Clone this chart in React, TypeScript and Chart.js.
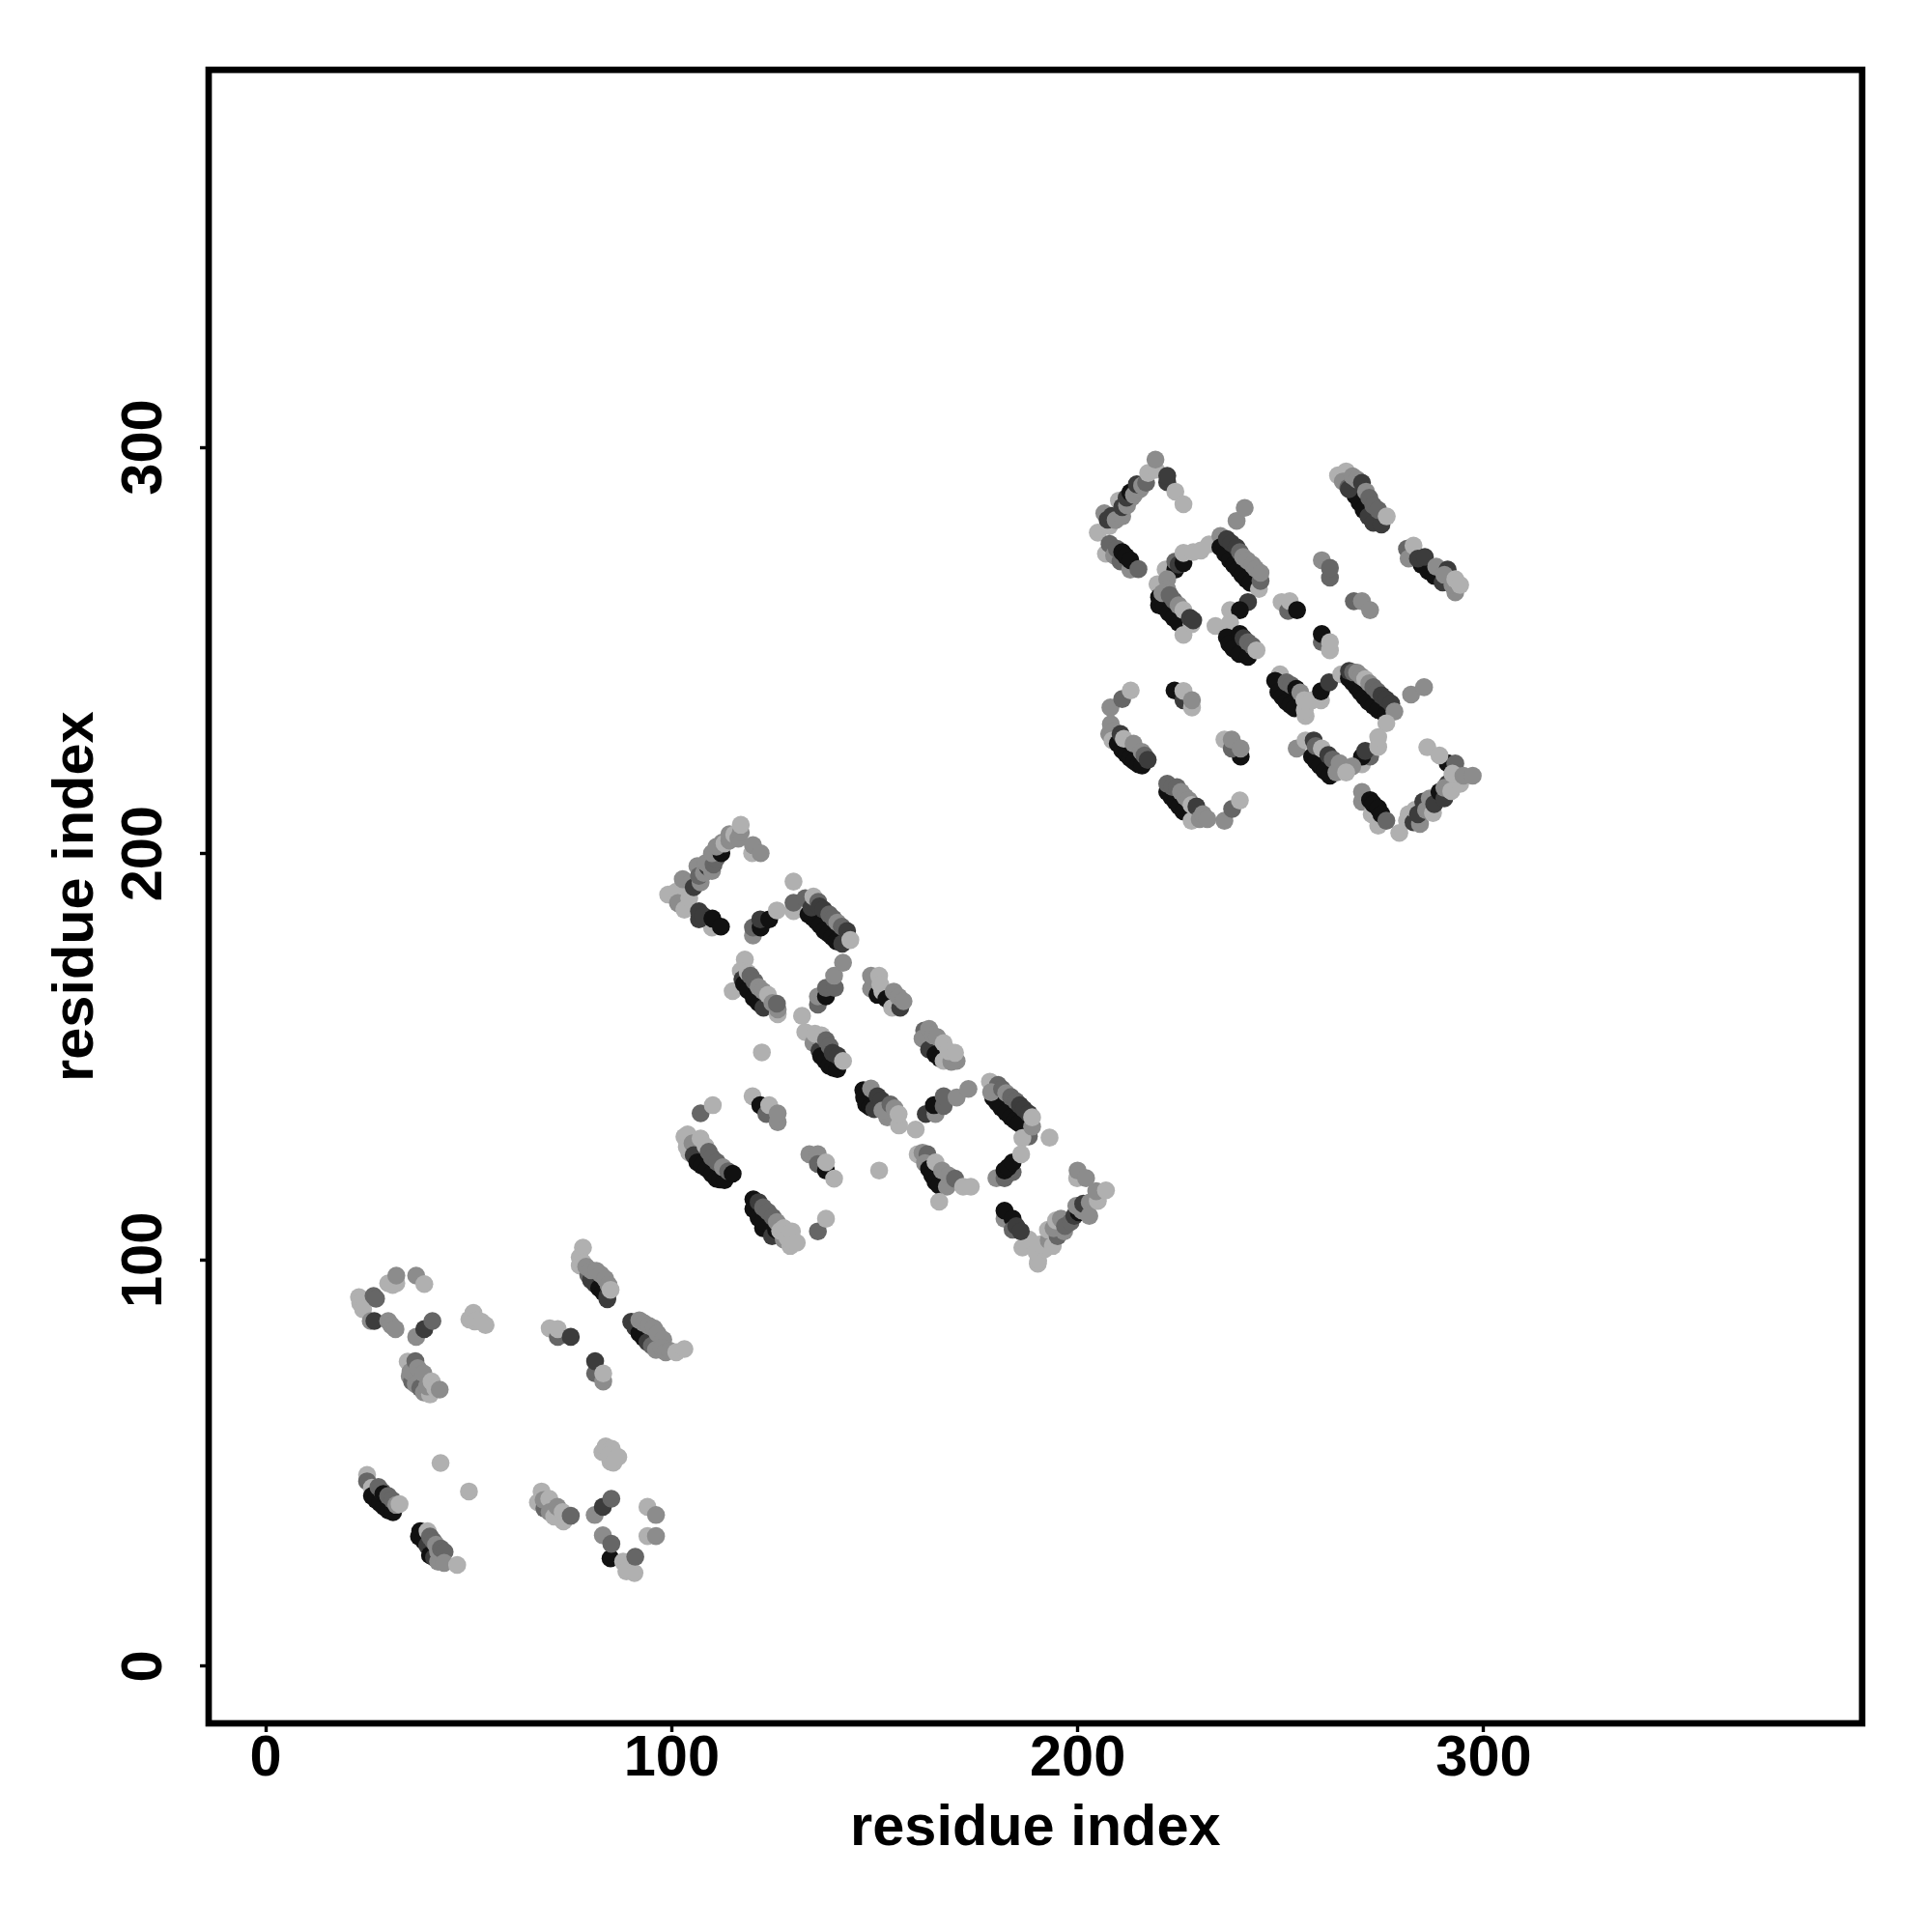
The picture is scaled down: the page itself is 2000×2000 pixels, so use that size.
import React, { useEffect, useRef } from "react";
import { Chart, registerables } from "chart.js";

Chart.register(...registerables);

const tickValues = [0, 100, 200, 300];
const axisLabel = "residue index";
const shades = ["#111111", "#3c3c3c", "#666666", "#8c8c8c", "#b0b0b0"];
// the values below were read with a slightly rounded axis scale
const xReadCorrection = 0.9993;
const yReadCorrection = 0.9986;

// [x residue, y residue, shade level]
const loopA = [[23,91,4],[23.3,89.5,4],[24,88,4],[26.6,91.3,2],[27.2,90.6,2],[30.2,94.4,4],[32.2,94.4,4],[31.3,94,4],[32.2,96.3,3],[37.1,96.3,3],[39.1,94.2,4],[25.9,85.1,3],[26.8,85.1,1],[30.2,85.1,3],[31,84,3],[32,83.1,3],[37.1,81.2,3],[39.1,83.1,1],[41.1,85.1,2]];
const blobA = [[50.2,85.5,4],[51.2,87.1,4],[51.5,85,4],[52.2,85.3,4],[53.2,84.9,4],[54.2,84.1,4]];
const clusterA = [[35,75.1,4],[35.5,71.5,3],[36.1,70.2,2],[35.7,72.6,3],[37,69.5,3],[38.1,68.6,2],[39,67.5,3],[36.9,75.2,2],[37.5,73.5,3],[38.9,72.2,3],[40.5,67,4],[39.8,69,3],[40.9,70.2,4],[41.8,68.5,4],[42.9,68.2,3]];
const strandB = [[78.2,103.2,4],[77.4,100.8,4],[77.4,98.8,4],[78.2,99.5,4],[79.5,96.5,2],[80.2,95.2,1],[81.2,94.2,1],[82.2,93.2,0],[83.2,92.2,0],[84.2,91.2,1],[84.2,90.5,1],[79,98.5,3],[80.2,97.6,3],[81.5,97.5,3],[82.6,96.6,3],[83.7,95.5,3],[84.5,94,3],[85,92.8,4]];
const pairB = [[70,83.3,4],[72,81.2,2],[72,83.1,4],[75.2,81.2,1]];
const pairC = [[81.2,72.2,2],[81.2,75.2,1],[83.2,70.2,3],[83.2,72.2,4]];
const strandC = [[90.1,84.9,1],[91.1,83.5,1],[92.1,82.1,0],[93.1,81,0],[94.1,79.9,1],[95.2,79,2],[96.2,78,3],[92.1,85.3,3],[93.2,84.6,3],[94.5,83.9,3],[95.7,83.3,3],[96.6,82,3],[98,80.5,3],[97.6,78.5,3],[98.6,77.4,3],[99.6,77.8,3],[101.2,77.4,4],[103.2,78.2,4]];
const strandD = [[25,47.2,4],[25,45.6,2],[26.2,44,4],[26.2,42,0],[27.2,41,0],[28.2,40.2,0],[29.2,39.3,0],[30.3,38.4,0],[31.4,38,0],[27.8,44.2,2],[28.8,43,2],[29,42.5,0],[30.2,42,2],[31.2,41,2],[32.2,39.8,3],[33,40,4],[43.1,50.1,4],[50.1,43.1,4]];
const strandE = [[38.1,33.3,0],[37.8,32,0],[38.9,31,0],[39.8,29.8,1],[40.5,27.4,0],[41.5,26.8,1],[39.9,33.3,4],[40.5,32,2],[41.3,30.9,2],[42,30,3],[42.5,25.8,3],[42.5,28.2,3],[43.2,29,2],[44.1,28.2,2],[44,25.5,3],[47.2,25,4]];
const blobF = [[83,52.8,4],[83.8,54.2,4],[85.3,53.6,4],[85,50.4,4],[84.5,52,4],[85.7,50.2,4],[86.9,51.6,4]];
const clusterF = [[67.1,40.4,4],[68,43.1,4],[68.7,38.9,2],[68.5,41,3],[69.9,41.3,4],[70,38,3],[71.1,36.9,4],[71.9,39.3,3],[73.4,35.7,4],[73.2,38,4],[75.2,37.1,2]];
const cornerF = [[81.1,37.3,3],[83.1,39.3,1],[85.2,41.3,2],[94.1,39.3,4],[96.2,37.3,3],[94.1,32.1,4],[96.2,32.1,3],[83.1,32.3,3],[85,26.6,0],[85.2,30.2,2],[88.1,25.8,4],[88.9,23.4,4],[90.9,23,4],[91.1,27,2]];

const loopG = [[99.2,190.2,4],[101.2,190.9,4],[101.6,188.1,3],[103.2,186.5,4],[104.4,189.3,4],[102.8,194,3],[104.8,193.2,3],[105.5,192,1],[107.2,193.2,3],[106.4,197.2,3],[106.8,194.8,2],[108,195.5,3],[109,197,1],[110,196,3],[108.5,198,3],[110.4,197.6,2],[111,199,2],[110,200.4,3],[112.3,200.4,0],[111.1,202,3],[112.5,203,3],[113.1,202.8,4],[114.3,203.5,3],[114.3,205.1,3],[115.5,205,4],[116.5,204,3],[117.1,205.5,3],[117.1,207.4,4],[119.9,200.4,4],[120.1,202.4,3],[122,200.4,3],[110,182.1,4],[106.8,184.1,1],[106.8,186.1,1],[107.8,185,1],[110.1,184.3,0],[112.2,182.3,0]];
const loopH = [[120.1,180.1,3],[120.1,182.1,2],[122,182.1,0],[121.9,184.1,1],[124.1,184.1,0],[126,186.3,4],[130.1,193.4,4],[130.1,186.1,4],[130.1,188.2,2]];
const strandH = [[133.8,185.3,0],[134.8,184.6,0],[135.7,183.7,0],[136.7,182.6,0],[137.7,181.3,0],[138.7,180.6,0],[139.7,179.7,0],[140.7,178.7,0],[142.1,178.1,1],[133,189.3,2],[134.5,187,1],[135,189.7,4],[136.2,188.4,2],[136.5,187.3,1],[137.5,186.5,1],[138.9,185.3,2],[139.9,184.3,2],[140.9,183.3,3],[142,182.3,2],[143.3,181.2,1],[144.1,179,4]];
const strandI = [[118.1,174.2,4],[117.1,171.4,4],[115.1,166.4,4],[117.5,169.3,1],[117.9,168.2,0],[118.9,166.6,0],[120.3,164.7,0],[121.5,163.5,0],[122.7,162.3,1],[118.8,171,4],[119.5,170.2,2],[120.5,168.8,2],[121.5,167.4,3],[122.6,166.4,3],[123.8,165.5,4],[124.9,163.5,3],[126.2,160.7,4],[126.2,161.9,3],[126,163.3,2]];
const strandJ = [[136.1,163.1,2],[136.1,165.1,3],[138.1,165.1,0],[138.1,167.2,2],[140.3,167.2,2],[140.1,170.2,3],[142.3,173.4,3]];
const strandK = [[149.2,167,3],[149.2,170.2,3],[150.8,165.5,0],[151.2,170.2,4],[152,166.3,4],[151.5,168,4],[153,164.5,0],[154.4,162.3,4],[156.4,162.3,1],[154.8,166.3,3],[156,165,3],[157.2,163.9,3]];
const strandL = [[132.2,160.3,4],[133,156.3,4],[135,153.6,3],[135.4,155.9,4],[136.5,151.7,1],[136.9,150.4,0],[137.9,149.3,0],[138.9,148,0],[139.9,147.5,0],[140.9,147.2,0],[137,155.5,4],[138.1,154.3,2],[139,152.8,2],[139.7,151.2,1],[141,150.5,1],[142.3,149.2,4],[122.3,151.3,4]];
const strandM = [[162.3,156.7,2],[161.9,154.7,3],[163.5,157.1,3],[163.5,152,1],[165.1,150.8,0],[164.5,155.5,3],[165.5,155.1,3],[166.2,149.8,0],[167.1,149.2,4],[170.3,149.2,3],[169,149,3],[167.1,153.6,4],[168.3,151.6,4],[169.9,151.2,4]];
const strandN = [[147.3,142,0],[147.5,140.2,0],[148,138.5,0],[149,137.8,0],[150,137.3,1],[149.2,142.4,3],[150.8,140.5,1],[151.8,139.5,1],[153.2,135.3,3],[152,137,3],[154,138.5,2],[155,137.5,3],[156.1,133.3,4],[156,136.1,4],[160.2,132.3,4]];
const strandO = [[162.7,136.1,1],[165.1,136.1,3],[164.7,138.3,0],[167.1,138.1,2],[167.1,140.5,2],[170.3,140.2,3],[173.2,142.3,3]];
const strandP = [[120,140.5,4],[121.9,138.3,0],[123.4,136.1,2],[124.1,138.3,4],[126.2,134.1,3],[126.2,136.3,3],[107.2,136.3,2],[110.2,138.3,4]];
const strandQ = [[103.2,130.5,4],[104,131.1,4],[104.4,126.6,4],[103.8,128,4],[105.2,128.9,3],[105.5,126,1],[106.4,124.2,0],[107.5,123.4,0],[108.8,122.6,0],[107.2,130.1,4],[108.4,128.2,4],[110,121.3,0],[111.1,120.2,0],[112,120,0],[113.1,119.8,0],[109.2,126.8,2],[110,125.4,2],[111.2,124.3,2],[112.7,123,3],[114,122,2],[115.1,121.4,0]];
const strandR = [[134,126.2,3],[136.1,126.2,3],[136.1,123.8,2],[138.1,122.2,0],[138.1,124.2,4],[140.1,120.2,4],[151.2,122.2,4]];
const strandS = [[160.7,126.2,4],[161.9,126.6,3],[163.1,126.2,2],[162.5,124,3],[163.5,122.6,0],[164.3,121,0],[165.1,119.4,0],[166,118.5,0],[165.1,124.2,4],[166.7,122.2,3],[167.9,118.2,3],[168.3,121,3],[169.9,120.2,2],[171.9,118.2,4],[173.8,118.2,4],[166,114.5,4]];
const strandT = [[179.3,140.1,0],[180.3,138.9,0],[181.3,137.7,0],[182.5,136.5,0],[183.7,135.3,0],[184.7,134.5,0],[185.7,133.8,0],[178.5,144.1,4],[180.5,143.3,2],[178.8,141.5,3],[181.5,142.3,2],[182.5,141.3,3],[183.7,140.3,2],[184.9,139.3,2],[185.9,138.3,1],[186.9,137.3,1],[188.1,130.6,2],[186.5,130.2,4],[188.9,133,3],[188.1,136.2,1],[188.9,135.3,4],[193.2,130.3,4]];
const strandU = [[180.1,120.3,3],[182.1,120.3,2],[184.1,121.8,2],[182.1,122.2,0],[183,123,0],[184.1,124.2,0],[186.2,126.2,4]];
const cornerV = [[200,120.3,4],[200.1,122.2,3],[202.2,120.3,3]];
const strandV = [[190.3,99.2,4],[190.4,100,4],[186.5,103.2,4],[187.5,104,4],[188.1,105.2,4],[190,102,4],[192,102.8,4],[191,104,4],[193,105,3],[194,103.6,4],[192.8,107.6,4],[195.2,106,2],[194.2,108,3],[196.8,107.2,3],[194.8,109.9,4],[196,110.3,3],[197,108.5,2],[198.4,109.5,2],[199.3,111,1],[200.4,111.9,0],[201.2,112.3,3],[199.8,113.5,3],[201.5,114,1],[203.1,114.3,3],[203,111,3],[205.1,114.7,4],[204.7,117.1,3],[207.1,117.3,4]];
const strandW = [[182.1,110.3,3],[182.1,112.3,0],[184.1,110.3,0],[184.1,107.6,2],[185,108.5,1],[186.1,107.2,1]];
const strandX = [[120.2,115.1,0],[120.2,112.7,0],[121,113.7,0],[121.5,110.5,0],[122.6,108,0],[122.6,109.5,0],[124.8,106,1],[125.8,107.6,0],[121.5,114.4,1],[122.6,113.1,2],[123.8,112,2],[125,110.7,2],[126,109.5,3],[127.7,105.2,3],[126.8,107.3,4],[127.7,108,4],[129.3,103.6,4],[128.6,105.6,4],[129.7,107.2,4],[130.9,104.4,4],[136.1,107.2,2],[138.1,110.3,4]];

const loopAA = [[205.1,279.4,4],[207.9,281,4],[206.7,284.2,3],[207.5,282.6,1],[208.5,283.5,1],[209.5,282.5,3],[211.1,283.4,3],[210.3,287.3,4],[211.1,285.7,1],[212.3,286.1,3],[213.5,288.1,3],[212.2,288,1],[213.1,289.3,0],[214,288.7,3],[215.5,290.1,3],[214.7,291.3,1],[216,291,3],[217,291.7,2],[217.5,294.1,4],[219.4,294.9,4],[219.3,297.4,3],[222.2,291.8,1],[222.2,293.4,1],[224.2,289.5,4],[226.2,286.4,4]];
const strandAB = [[207.1,274.2,4],[208,276.6,2],[209.1,273.8,3],[210.7,272.3,2],[209.8,275.4,2],[211.1,274.6,0],[212,273.6,0],[213.1,270.3,3],[213.1,272.6,0],[215.1,270.4,2]];
const loopAC = [[239.3,282.3,3],[241.3,285.5,3],[221.8,270.3,4],[224.2,270.3,0],[224.2,272.3,2],[225,271.5,1],[226.2,271.9,0],[226.2,274.4,4],[228.6,274.6,4],[230.5,275,4],[232.5,276.5,4],[219.8,266.7,4],[222.2,267.9,3]];
const strandAC = [[235.3,278.6,3],[235.3,275.8,0],[236.5,274.2,0],[237.7,272.6,0],[238.7,271.4,0],[239.7,270.3,0],[240.7,269,0],[241.7,267.9,0],[242.7,267,0],[236.9,277.8,1],[238,276.8,1],[239.3,275.8,1],[240.1,274.6,2],[240.9,273.4,3],[242,272.5,3],[243.2,271.5,3],[244,270.5,3],[244.8,265.5,4],[245.2,267.5,2],[245.2,269.5,3]];
const strandAD = [[220.2,261.5,0],[220.2,263.5,0],[221.5,261,0],[222.6,259.6,0],[223.8,258.4,0],[225,257.2,0],[222.2,265.5,3],[221,264.5,3],[223.8,262.7,2],[222.8,264,2],[226.2,254.2,4],[228.2,256.8,4],[225,261.5,3],[226.2,260.3,4],[227.8,258.4,1],[228.6,257.8,1]];
const strandAE = [[237.7,260.3,4],[242.1,262.3,1],[240.1,260.3,0],[234.1,256.4,4],[237.7,257.2,4],[236.9,253.6,0],[237.5,252,0],[238.5,250.8,0],[240,249.5,0],[242.1,248.8,0],[240.1,254.4,0],[241,253.4,1],[242.1,252.4,2],[243.2,251.5,2],[244.2,250.4,4]];
const pairsAF = [[250.4,262.3,4],[252,260.1,2],[252.4,262.5,4],[254.2,260.3,0],[260.3,272.6,3],[262.3,268.3,2],[262.3,270.7,2],[268.2,262.5,2],[270.2,262.5,3],[272.2,260.3,3],[260.3,252.4,2],[260.3,254.4,0],[262.3,250.4,4],[262.3,252.4,4]];
const strandAG = [[264.3,293.5,4],[266.3,294.5,4],[265.5,292,3],[266.8,290.5,2],[268.6,288.5,0],[269.6,286.8,0],[270.6,285,0],[271.8,283.4,1],[273,281.8,1],[267,290.1,1],[267.9,293.3,3],[269,292.5,3],[270.2,291.7,1],[271.2,289.5,3],[272,288,2],[275,281.4,1],[273,286.1,2],[274.2,285,2],[276.3,283.4,4]];
const strandAH = [[281.3,275.4,2],[281.7,273,3],[282.9,276.2,4],[284.9,271.5,0],[286.5,270,0],[288.1,268.7,0],[284,273,1],[285.7,273.4,1],[290.1,267.1,1],[288.5,271,3],[291.3,270.3,1],[290.5,269,3],[293.2,264.7,3],[292.5,266.5,3],[293.2,267.9,4],[294.4,266.5,4]];
const strandAI = [[208.2,236.3,3],[211.1,238.4,2],[213.2,240.5,4],[207.9,229.8,3],[208.3,232.2,3],[209,230.5,3],[208.7,228.2,4],[210,227.4,0],[211.1,225.8,0],[212.1,224.8,0],[213.1,223.8,0],[214.1,223,0],[215.1,222.3,0],[216,222,0],[210.7,229.8,1],[211.5,228.6,4],[213.9,227.4,3],[215.9,225.4,3],[216.6,224.5,2],[217.4,223.4,1]];
const pairsAJ = [[224,240.5,0],[226.2,238.1,1],[226.2,240.4,4],[228.3,236.3,4],[228.3,238.1,3],[236.3,228.4,4],[240.3,224.2,0],[238.1,226.2,2],[238.1,228.4,3],[240.3,226.2,3]];
const strandAK = [[222.2,215.5,0],[223.2,214.3,0],[224.2,213.1,0],[225.2,211.9,0],[226.2,210.7,0],[222.2,217.5,2],[223.5,216.7,2],[224.6,216.7,2],[225.6,215.5,3],[226.6,214.3,3],[227.5,213.5,3],[228.2,208.4,4],[228.2,212.3,4],[229.4,211.9,1],[230.2,208.8,3],[231,210,3],[232.1,208.8,3],[236.3,208.4,3],[238.2,211.3,2],[240.1,213.4,4]];
const strandAL = [[250,244.5,4],[248.8,242.9,0],[249.6,240.1,0],[250.6,238.9,0],[251.6,237.7,0],[252.6,236.9,0],[253.6,236.1,0],[251.6,242.5,2],[252.8,241.8,2],[254,240.9,0],[255,240,3],[256.3,234.2,4],[256.1,235.7,4],[256,238.1,4],[257.9,238.1,4],[260.1,238.1,4],[260.1,240.3,0],[262.1,242.5,1]];
const strandAM = [[265.1,244.5,4],[267,243.5,0],[267.9,242.5,0],[268.9,241.3,0],[269.8,240.1,0],[270.8,238.9,0],[271.8,237.7,0],[273,236.7,0],[274.2,235.7,0],[276,234.5,0],[267,245.3,1],[268,245,2],[269,244.9,3],[270,244,3],[271,243.3,4],[272,242.3,3],[273,241.3,2],[274,240.3,2],[275,239.3,1],[276.2,238.3,1],[277.4,237.3,1],[278.2,235.3,3]];
const loopAN = [[276.2,232.4,4],[282.3,239.5,3],[285.5,241.3,3],[270.2,222.3,4],[272.2,224.2,2],[270.2,224.2,0],[271,225.6,1],[274.2,226.6,4],[274.2,229,4]];
const strandAO = [[254.1,226.2,3],[256.3,228.2,4],[257.9,224.2,0],[258.9,223,0],[259.9,221.9,0],[261,220.7,0],[262.3,219.5,0],[258.3,228.2,1],[258.8,226.8,2],[260.3,226.2,4],[261.9,224.6,1],[263,223.5,2],[263.9,220.3,3],[264.7,222.6,3],[267.8,221.8,3],[266.3,220.3,4]];
const loopAP = [[279.4,205.4,4],[281.3,208.4,4],[281.7,210,4],[282.9,208,1],[283.3,211.1,4],[284.5,207.6,3],[284,210,1],[285.3,213.1,1],[286,211,3],[286.9,213.9,3],[287.7,210.3,4],[288,212.5,1],[289.3,215.5,0],[290.5,213.9,1],[291.3,217.5,1],[290.5,216.5,3],[292.2,215.7,4],[294.4,217.5,4],[291.3,222.6,0],[293.2,222.5,2],[286.3,226.5,4],[289.3,224.5,4],[292.5,220,4],[295.2,219.5,3],[297.5,219.5,3]];
const strandAQ = [[270.2,213.1,3],[270.2,215.5,3],[272.6,210,4],[272.2,213.5,0],[273,212.5,0],[274.2,207.2,4],[274.2,211.5,0],[275,210,0],[276.2,208.4,2]];

const contacts = [
  ...loopA, ...blobA, ...clusterA, ...strandB, ...pairB, ...pairC, ...strandC, ...strandD, ...strandE, ...blobF, ...clusterF, ...cornerF,
  ...loopG, ...loopH, ...strandH, ...strandI, ...strandJ, ...strandK, ...strandL, ...strandM, ...strandN, ...strandO, ...strandP, ...strandQ, ...strandR, ...strandS, ...strandT, ...strandU, ...cornerV, ...strandV, ...strandW, ...strandX,
  ...loopAA, ...strandAB, ...loopAC, ...strandAC, ...strandAD, ...strandAE, ...pairsAF, ...strandAG, ...strandAH, ...strandAI, ...pairsAJ, ...strandAK, ...strandAL, ...strandAM, ...loopAN, ...strandAO, ...loopAP, ...strandAQ,
];

const font = { family: "'Liberation Sans', Arial, sans-serif", size: 59.5, weight: "bold" as const };

const framePlugin = {
  id: "frame",
  afterDraw(chart: any) {
    const { ctx, chartArea: a } = chart;
    ctx.save();
    ctx.strokeStyle = "#000";
    ctx.lineWidth = 6.7;
    ctx.lineJoin = "miter";
    ctx.strokeRect(a.left, a.top, a.right - a.left, a.bottom - a.top);
    ctx.restore();
  },
};

export default function App() {
  const ref = useRef<HTMLCanvasElement>(null);
  useEffect(() => {
    const fixedTicks = (s: any) => {
      s.ticks = tickValues.map((value) => ({ value }));
    };
    const chart = new Chart(ref.current!, {
      type: "scatter",
      data: {
        datasets: [
          {
            data: contacts.map(([x, y]) => ({ x: x * xReadCorrection, y: y * yReadCorrection })),
            pointBackgroundColor: contacts.map((c) => shades[c[2]]),
            pointBorderWidth: 0,
            pointRadius: 9.3,
            clip: false,
          },
        ],
      },
      plugins: [framePlugin],
      options: {
        animation: false,
        responsive: false,
        layout: { padding: { top: 72.3, right: 72.3, left: 0, bottom: 0 } },
        plugins: { legend: { display: false }, tooltip: { enabled: false } },
        scales: {
          x: {
            type: "linear",
            min: -14.04,
            max: 393.2,
            afterBuildTicks: fixedTicks,
            afterFit: (s: any) => { s.height = 216; },
            grid: { drawOnChartArea: false, drawTicks: true, tickLength: 9, tickWidth: 3.4, tickColor: "#000" },
            border: { display: false },
            ticks: { color: "#000", font, padding: -7, maxRotation: 0, minRotation: 0 },
            title: { display: true, text: axisLabel, color: "#000", font, padding: { top: 0, bottom: 71 } },
          },
          y: {
            type: "linear",
            min: -14.03,
            max: 392.9,
            afterBuildTicks: fixedTicks,
            afterFit: (s: any) => { s.width = 216; },
            grid: { drawOnChartArea: false, drawTicks: true, tickLength: 9, tickWidth: 3.4, tickColor: "#000" },
            border: { display: false },
            ticks: { color: "#000", font, padding: 7, minRotation: 90, maxRotation: 90, crossAlign: "center" },
            title: { display: true, text: axisLabel, color: "#000", font, padding: { top: 44, bottom: 0 } },
          },
        },
      },
    } as any);
    return () => chart.destroy();
  }, []);
  return <canvas ref={ref} width={2000} height={2000} style={{ position: "absolute", left: 0, top: 0 }} />;
}
